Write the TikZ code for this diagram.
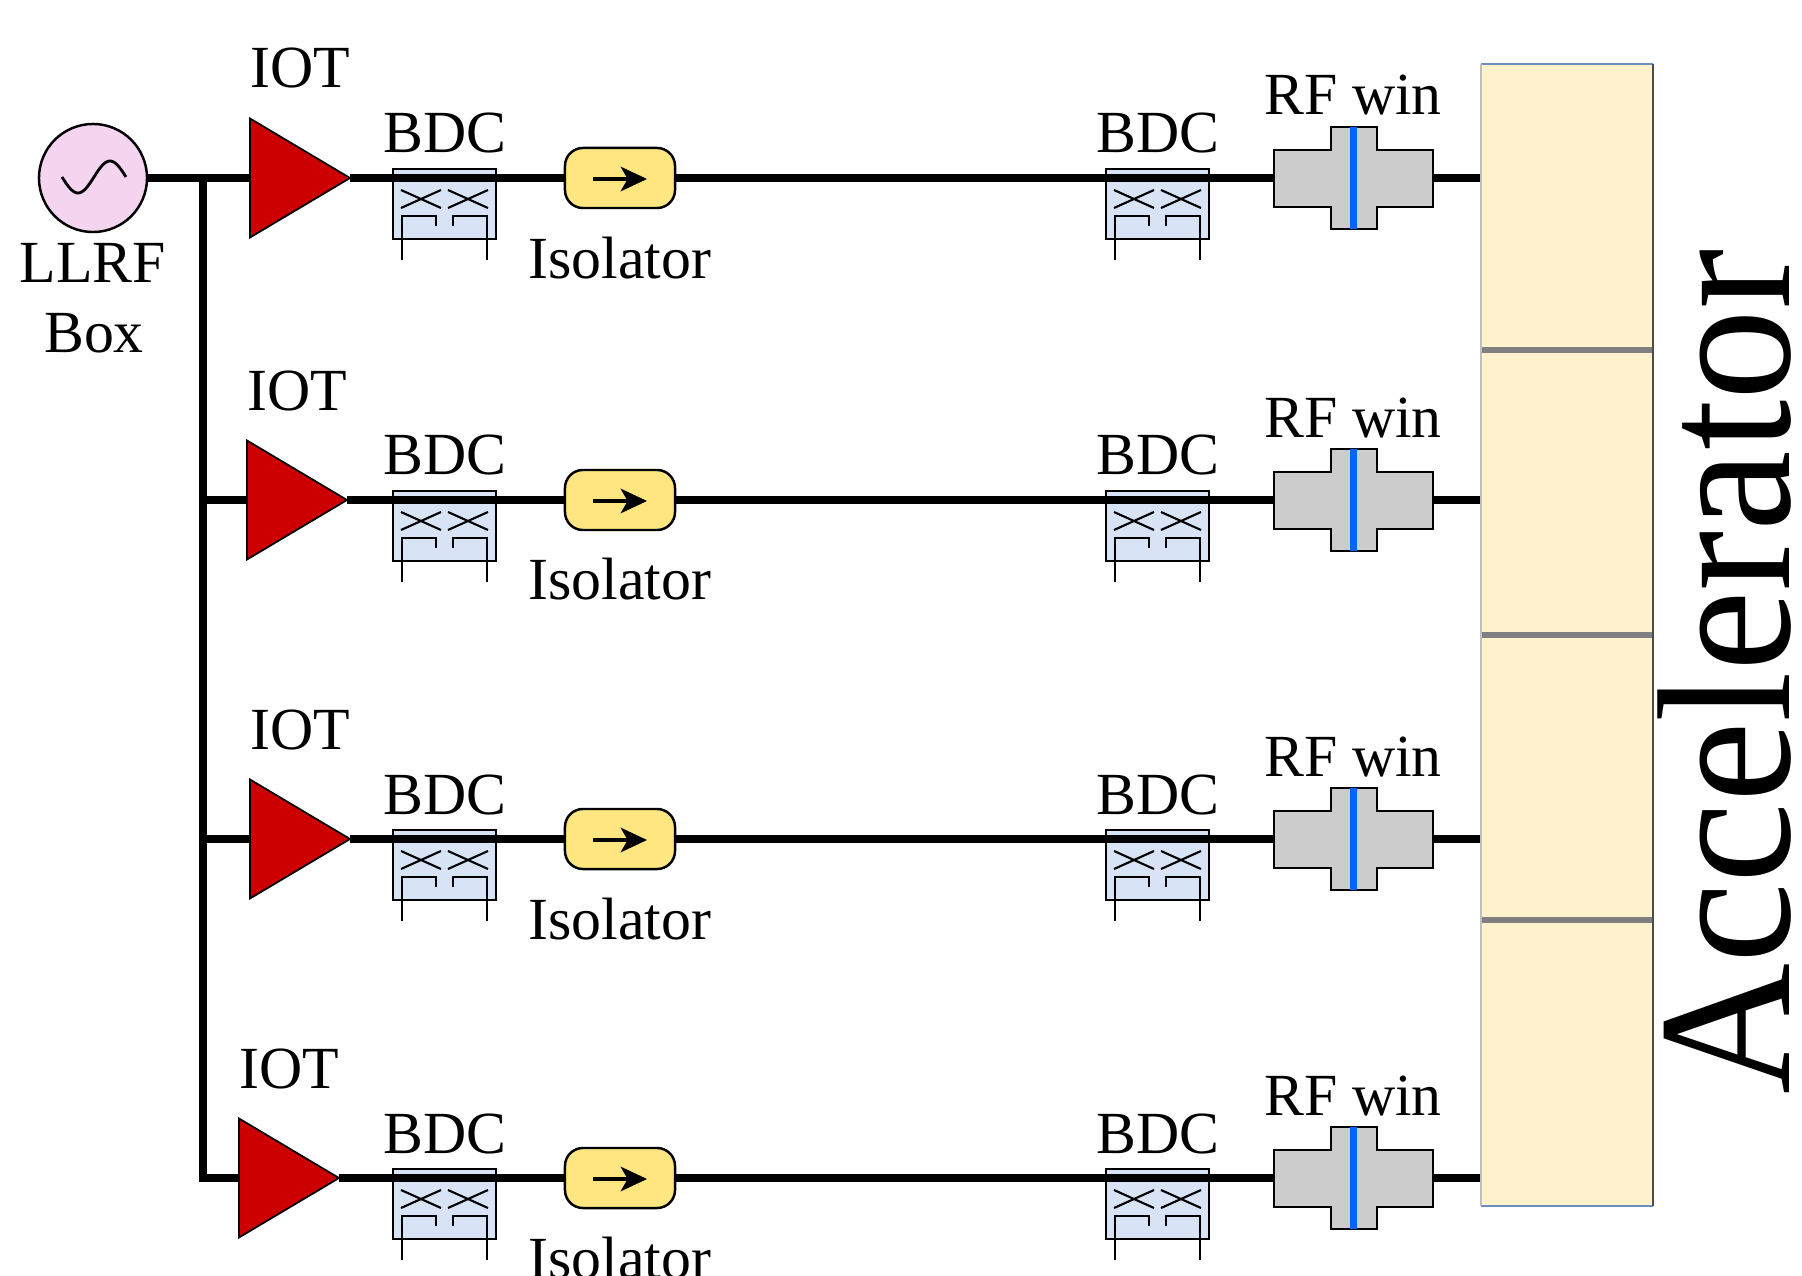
\documentclass[tikz,border=0pt]{standalone}
\usepackage{fontspec}
\setmainfont{Liberation Serif}
\usepackage{graphicx}
\usetikzlibrary{arrows.meta}
\pgfdeclarelayer{bottom}
\pgfdeclarelayer{lines}
\pgfsetlayers{bottom,lines,main}
\definecolor{llrffill}{HTML}{F4D4EE}
\definecolor{iotred}{HTML}{CC0000}
\definecolor{bdcfill}{HTML}{D8E4F6}
\definecolor{isofill}{HTML}{FFE680}
\definecolor{rfgray}{HTML}{CCCCCC}
\definecolor{winblue}{HTML}{0066FF}
\definecolor{accfill}{HTML}{FFF2CC}
\definecolor{accedge}{HTML}{6C8EBF}
\definecolor{divgray}{HTML}{808080}
\begin{document}
\begin{tikzpicture}[x=0.01cm, y=-0.01cm,
  rfline/.style={line width=0.08cm, draw=black},
  lbl/.style={font=\fontsize{17}{20}\selectfont, inner sep=0pt, anchor=base},
  iotshape/.style={fill=iotred, draw=black, line width=0.5pt, line join=miter},
  bdcbox/.style={rectangle, draw=black, fill=bdcfill, line width=0.7pt, minimum width=1.03cm, minimum height=0.70cm, inner sep=0pt},
  bdcsym/.style={line width=0.6pt},
  isobox/.style={rectangle, draw=black, fill=isofill, line width=0.7pt, rounded corners=0.18cm, minimum width=1.10cm, minimum height=0.60cm, inner sep=0pt},
  rfshape/.style={draw=black, fill=rfgray, line width=0.7pt},
  rfbox/.style={rectangle, minimum width=1.59cm, minimum height=0.57cm, inner sep=0pt},
  winline/.style={draw=winblue, line width=0.07cm},
  isoarrow/.style={line width=0.9pt, -{Stealth[length=7.5pt, width=7pt, inset=2pt]}}
  ]
\useasboundingbox (0,0) rectangle (1802,1276);
\clip (0,0) rectangle (1802,1276);

% accelerator
\node[rectangle, fill=accfill, minimum width=1.70cm, minimum height=11.40cm, inner sep=0pt] (acc) at (1567,635) {};
\foreach \d in {350,635,920} {
  \draw[divgray, line width=0.06cm] (1482,\d) -- (1652,\d);
}
\draw[accedge, line width=0.7pt] (acc.north west) -- (acc.north east) (acc.south west) -- (acc.south east);
\draw[black!25, line width=0.5pt] (acc.north west) -- (acc.south west);
\draw[black!70, line width=0.6pt] (acc.north east) -- (acc.south east);
\node[rotate=90, anchor=base, inner sep=0pt, font=\fontsize{54}{60}\selectfont] (acctext) at (1789,672) {\scalebox{0.955}[1]{Accelerator}};

% LLRF source
\node[circle, draw=black, fill=llrffill, line width=0.7pt, minimum size=1.08cm, inner sep=0pt] (llrf) at (93,178) {};
\draw[line width=0.8pt] plot[domain=0:1, samples=40, smooth] ({62+64*\x},{177+16*sin(360*\x)});
\node[lbl] (llrfa) at (93,283) {LLRF};
\node[lbl] (llrfb) at (94,353) {Box};

% rows
\foreach \Y/\T/\i in {178/250/1, 500/247/2, 839/250/3, 1178/239/4} {
  \coordinate (in\i) at (\T,\Y);
  \coordinate (tip\i) at (\T+100,\Y);
  \coordinate (bus\i) at (203,\Y);
  \begin{pgfonlayer}{bottom}
    \foreach \L/\n in {393/a, 1106/b} {
      \node[bdcbox] (bdc\n\i) at (\L+51.5,\Y+26) {};
      \draw[bdcsym] (\L+8,\Y+12) -- (\L+48,\Y+30) (\L+8,\Y+30) -- (\L+48,\Y+12)
                    (\L+55,\Y+12) -- (\L+95,\Y+30) (\L+55,\Y+30) -- (\L+95,\Y+12);
      \draw[bdcsym] (\L+9,\Y+82) -- (\L+9,\Y+38) -- (\L+43,\Y+38) -- (\L+43,\Y+48)
                    (\L+94,\Y+82) -- (\L+94,\Y+38) -- (\L+60,\Y+38) -- (\L+60,\Y+48);
      \node[lbl] (bdcl\n\i) at (\L+52,\Y-25) {BDC};
    }
  \end{pgfonlayer}
  % IOT
  \draw[iotshape] (\T,\Y-59.5) -- (tip\i) -- (\T,\Y+59.5) -- cycle;
  \node[lbl] (iotl\i) at (\T+50,\Y-90) {IOT};
  % isolator
  \node[isobox] (iso\i) at (620,\Y) {};
  \draw[isoarrow] ([xshift=-0.27cm,yshift=-0.01cm]iso\i.center) -- ([xshift=0.27cm,yshift=-0.01cm]iso\i.center);
  \node[lbl] (isol\i) at (620,\Y+100) {Isolator};
  % RF window
  \node[rfbox] (rfw\i) at (1353.5,\Y) {};
  \draw[rfshape] (1274,\Y-28) -- (1331,\Y-28) -- (1331,\Y-51) -- (1377,\Y-51) -- (1377,\Y-28)
     -- (1433,\Y-28) -- (1433,\Y+29) -- (1377,\Y+29) -- (1377,\Y+51) -- (1331,\Y+51)
     -- (1331,\Y+29) -- (1274,\Y+29) -- cycle;
  \draw[winline] (1353.5,\Y-51) -- (1353.5,\Y+51);
  \node[lbl] (rfl\i) at (1353,\Y-63) {RF win};
  % connectors
  \begin{pgfonlayer}{lines}
    \draw[rfline] (tip\i) -- (iso\i.west);
    \draw[rfline] (iso\i.east) -- (rfw\i.west);
    \draw[rfline] (rfw\i.east) -- (rfw\i.east -| acc.west);
  \end{pgfonlayer}
}
\begin{pgfonlayer}{lines}
  \draw[rfline] (llrf.east) -- (in1);
  \draw[rfline, line join=miter] (bus1) |- (in4);
  \draw[rfline] (bus2) -- (in2);
  \draw[rfline] (bus3) -- (in3);
\end{pgfonlayer}
\end{tikzpicture}
\end{document}
